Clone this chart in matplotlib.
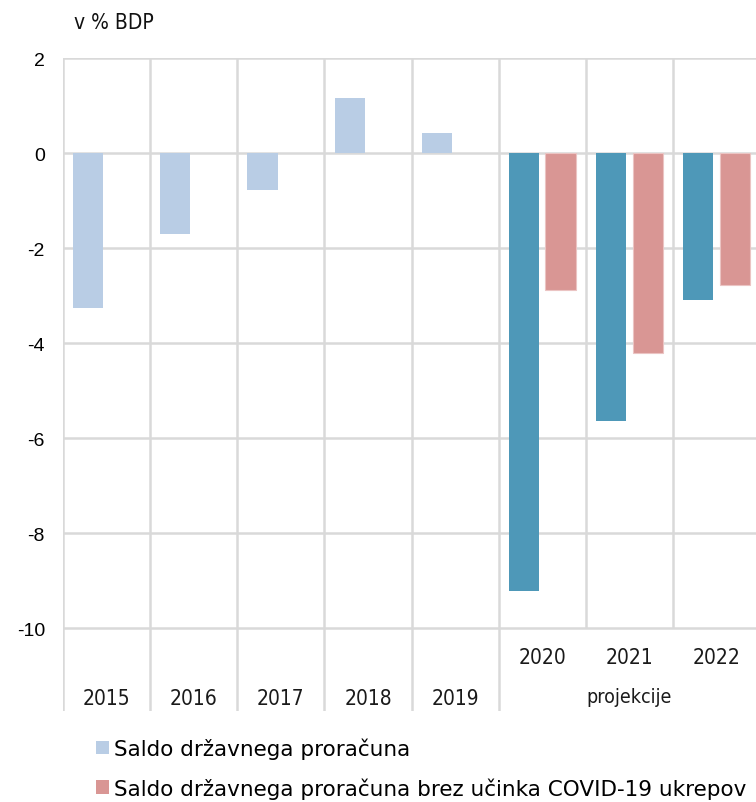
import matplotlib
matplotlib.use("Agg")
import matplotlib.pyplot as plt
from matplotlib import font_manager
from matplotlib.patches import Patch

# ---- data -------------------------------------------------------------
years = ["2015", "2016", "2017", "2018", "2019", "2020", "2021", "2022"]
saldo = [-3.27, -1.70, -0.77, 1.15, 0.43, -9.21, -5.64, -3.09]
saldo_brez_covid = [None, None, None, None, None, -2.89, -4.20, -2.78]
projection_label = "projekcije"
n_history = 5  # first five years are realised values

legend_labels = ["Saldo državnega proračuna",
                 "Saldo državnega proračuna brez učinka COVID-19 ukrepov"]
y_ticks = [2, 0, -2, -4, -6, -8, -10]
unit_label = "v % BDP"

# ---- style ------------------------------------------------------------
c_hist = "#B9CDE5"
c_proj = "#4E98B8"
c_pink = "#D99694"
c_grid = "#D9D9D9"


def pick_condensed():
    names = {(f.name, f.stretch) for f in font_manager.fontManager.ttflist}
    for name, stretch in names:
        if name == "DejaVu Sans" and stretch in ("condensed", "semi-condensed", 87.5):
            return dict(family="DejaVu Sans", stretch="condensed")
    for name, _ in names:
        if name == "Liberation Sans Narrow":
            return dict(family="Liberation Sans Narrow")
    return dict(family="DejaVu Sans")


cond = pick_condensed()

W, H = 756, 803
fig = plt.figure(figsize=(W / 100, H / 100), dpi=100)
ax_left, ax_right = 63 / W, 760 / W
ax_top, ax_bottom = 1 - 59 / H, 1 - 712 / H
ax = fig.add_axes([ax_left, ax_bottom, ax_right - ax_left, ax_top - ax_bottom])

ymin = -11.74
ax.set_xlim(-0.5, len(years) - 0.5)
ax.set_ylim(ymin, 2)

# horizontal grid lines at the ticks
for yv in y_ticks:
    ax.axhline(yv, color=c_grid, lw=1.8, zorder=0)

# category separators: the historical ones run through the label area,
# the projection ones stop at the lowest grid line
for i in range(len(years)):
    xb = i - 0.5
    y_low = ymin if i <= n_history else -10
    ax.plot([xb, xb], [y_low, 2], color=c_grid, lw=1.8, zorder=0,
            solid_capstyle="butt")

bw = 0.346
off = 0.21
xs = list(range(len(years)))
colors1 = [c_hist if i < n_history else c_proj for i in xs]
ax.bar([x - off for x in xs], saldo, width=bw, color=colors1, zorder=2)
x2 = [x + off for x, v in zip(xs, saldo_brez_covid) if v is not None]
v2 = [v for v in saldo_brez_covid if v is not None]
ax.bar(x2, v2, width=bw, color=c_pink, edgecolor="#EBC4C3", linewidth=0.8,
       zorder=2)

for s in ax.spines.values():
    s.set_visible(False)
ax.set_xticks([])
ax.set_yticks(y_ticks)
ax.set_yticklabels([str(t) for t in y_ticks], family="Liberation Sans",
                   fontsize=14)
ax.tick_params(axis="y", length=0, pad=13)

# category labels
for i, yr in enumerate(years):
    yl = -11.47 if i < n_history else -10.60
    ax.text(i, yl, yr, ha="center", va="center", fontsize=15, color="#1a1a1a",
            **cond)
ax.text(6, -11.44, projection_label, ha="center", va="center", fontsize=14,
        color="#1a1a1a", **cond)

fig.text(74 / W, 1 - 23 / H, unit_label, ha="left", va="center", fontsize=15,
         color="#111111", **cond)

handles = [Patch(facecolor=c_hist, edgecolor="none"),
           Patch(facecolor=c_pink, edgecolor="none")]
fig.legend(handles, legend_labels, loc="upper left",
           bbox_to_anchor=(87 / W, 1 - 730 / H), frameon=False,
           handlelength=0.6, handleheight=0.6,
           handletextpad=0.25, labelspacing=0.85, borderaxespad=0,
           prop=dict(family="DejaVu Sans", size=15.5))

fig.savefig("out.png", dpi=100)
